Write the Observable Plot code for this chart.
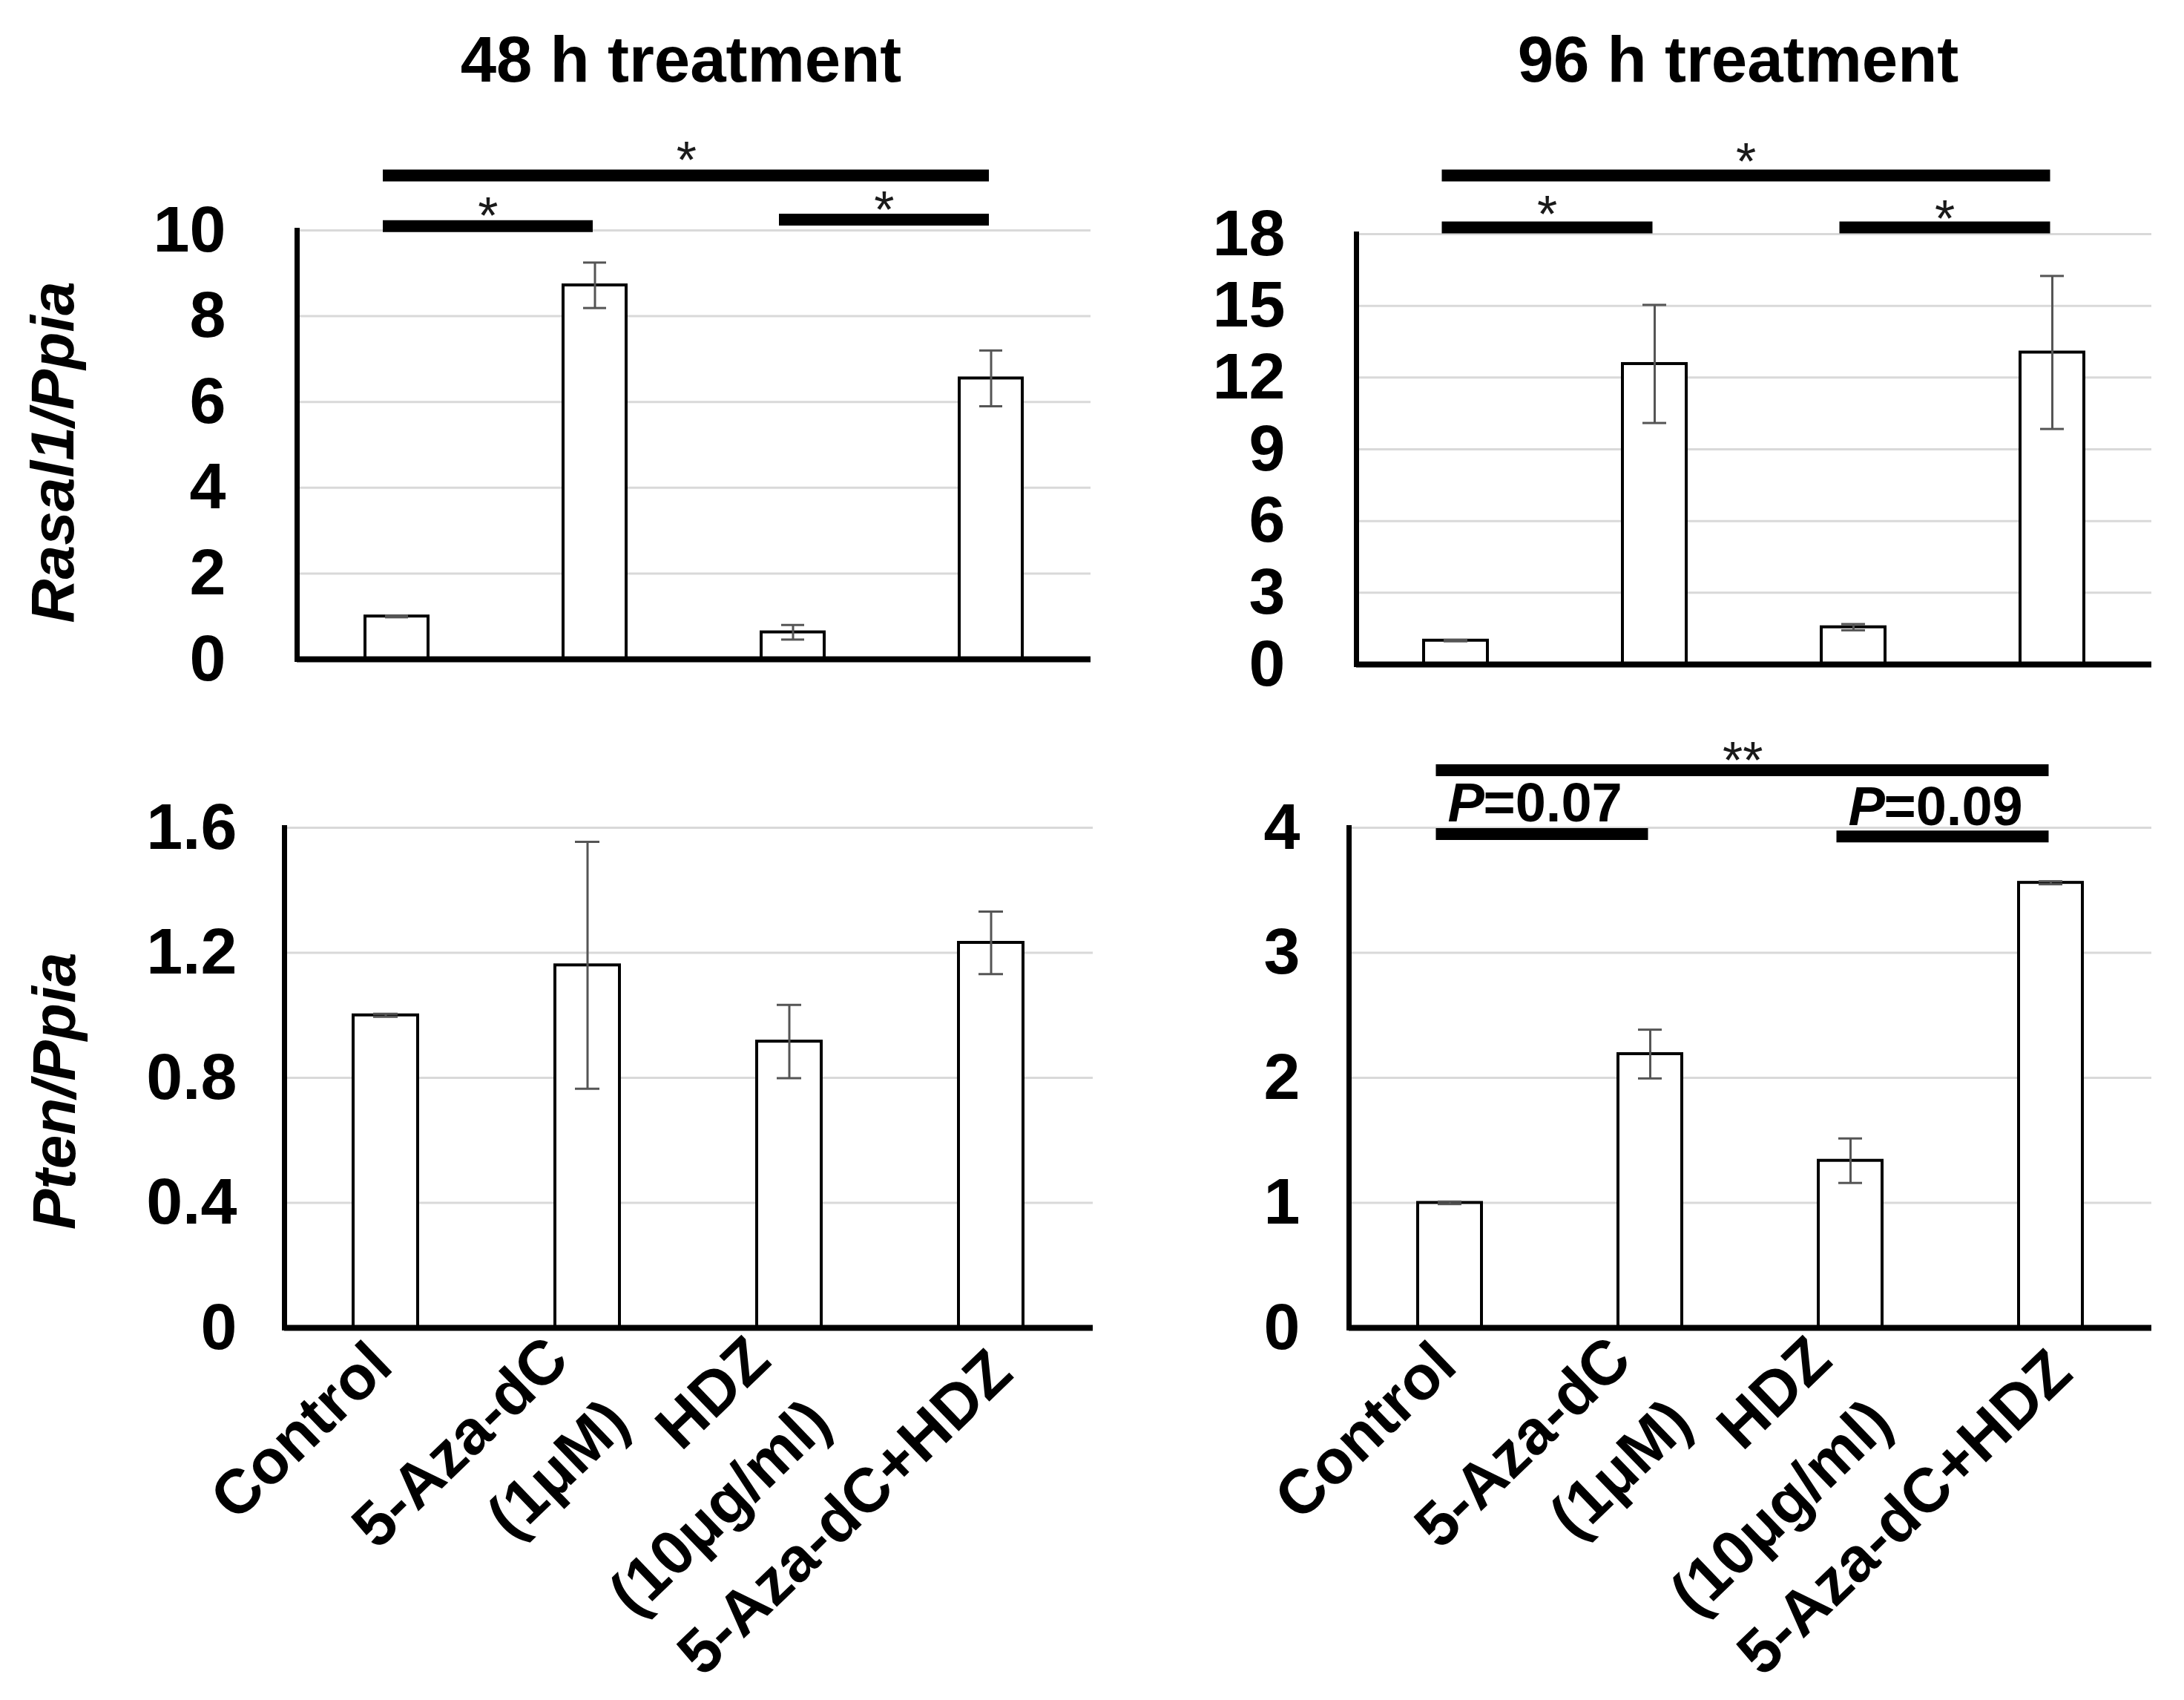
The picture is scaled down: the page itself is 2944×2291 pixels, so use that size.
<!DOCTYPE html>
<html><head><meta charset="utf-8">
<script src="https://cdn.jsdelivr.net/npm/d3@7"></script>
<script src="https://cdn.jsdelivr.net/npm/@observablehq/plot@0.6"></script>
<style>
html,body{margin:0;padding:0;background:#fff;}
#root{position:relative;width:2944px;height:2291px;background:#fff;font-family:"Liberation Sans",Arial,sans-serif;overflow:hidden}
.panel{position:absolute}
.title{position:absolute;width:900px;text-align:center;font-size:87px;font-weight:bold;line-height:1;color:#000;white-space:nowrap}
</style></head><body><div id="root"></div>
<script>
// ---- data ----
const categories = ["Control", "5-Aza-dC\n(1μM)", "HDZ\n(10μg/ml)", "5-Aza-dC+HDZ"];
const titles = ["48 h treatment", "96 h treatment"];
const rasalLabel = "Rasal1/Ppia";
const ptenLabel = "Pten/Ppia";

const rasal48 = [1.0, 8.72, 0.63, 6.55];
const rasal48Err = [0.02, 0.53, 0.17, 0.65];
const rasal96 = [1.0, 12.57, 1.56, 13.05];
const rasal96Err = [0.03, 2.47, 0.13, 3.2];
const pten48 = [1.0, 1.16, 0.916, 1.232];
const pten48Err = [0.005, 0.395, 0.117, 0.1];
const pten96 = [1.0, 2.19, 1.337, 3.56];
const pten96Err = [0.01, 0.195, 0.178, 0.012];

const rasal48Ticks = [0, 2, 4, 6, 8, 10];
const rasal96Ticks = [0, 3, 6, 9, 12, 15, 18];
const pten48Ticks = [0, 0.4, 0.8, 1.2, 1.6];
const pten96Ticks = [0, 1, 2, 3, 4];

// significance brackets: [from, to, bar y, label, label y]
const rasal48Sig = [
  ["Control", "5-Aza-dC+HDZ", 11.28, "*", 11.9],
  ["Control", "5-Aza-dC\n(1μM)", 10.1, "*", 10.6],
  ["HDZ\n(10μg/ml)", "5-Aza-dC+HDZ", 10.25, "*", 10.75]
];
const rasal96Sig = [
  ["Control", "5-Aza-dC+HDZ", 20.45, "*", 21.5],
  ["Control", "5-Aza-dC\n(1μM)", 18.28, "*", 19.3],
  ["HDZ\n(10μg/ml)", "5-Aza-dC+HDZ", 18.28, "*", 19.1]
];
const pten48Sig = [];
const pten96Sig = [
  ["Control", "5-Aza-dC+HDZ", 4.46, "**", 4.63],
  ["Control", "5-Aza-dC\n(1μM)", 3.95, "P=0.07", 4.05],
  ["HDZ\n(10μg/ml)", "5-Aza-dC+HDZ", 3.93, "P=0.09", 4.02]
];

// ---- drawing ----
const FONT = '"Liberation Sans", Arial, sans-serif';
const root = document.getElementById("root");

function makePanel(cfg) {
  const rows = categories.map((c, i) => ({cat: c, v: cfg.values[i], e: cfg.errs[i]}));
  const sig = cfg.sig.map(([from, to, y, label, labelY]) => ({from, to, y, label, labelY}));
  const innerW = cfg.width - cfg.mL - cfg.mR;
  const step = innerW / categories.length;
  const sigDx = -11;
  const errStyle = {stroke: "#555", strokeWidth: 3};
  const marks = [
    Plot.gridY(cfg.ticks.filter(t => t > 0), {stroke: "#d9d9d9", strokeOpacity: 1, strokeWidth: 3}),
    Plot.barY(rows, {x: "cat", y: "v", fill: "white", stroke: "black", strokeWidth: 4}),
    Plot.ruleX(rows, {x: "cat", y1: d => d.v - d.e, y2: d => d.v + d.e, ...errStyle}),
    Plot.tickY(rows, {x: "cat", y: d => d.v + d.e, insetLeft: 27, insetRight: 27, ...errStyle}),
    Plot.tickY(rows, {x: "cat", y: d => d.v - d.e, insetLeft: 27, insetRight: 27, ...errStyle}),
    Plot.ruleY([0], {stroke: "black", strokeWidth: 8}),
    Plot.frame({anchor: "left", stroke: "black", strokeWidth: 7}),
    Plot.axisY({ticks: cfg.ticks, tickFormat: d => String(d), tickSize: 0, tickPadding: cfg.tickPadding,
      fontSize: 88, fontWeight: "bold", label: null}),
    Plot.link(sig, {x1: "from", x2: "to", y1: "y", y2: "y", stroke: "black", strokeWidth: 16, strokeLinecap: "square", dx: sigDx})
  ];
  if (cfg.yLabel) {
    marks.push(Plot.text([cfg.yLabel], {text: d => d, frameAnchor: "left", rotate: -90, dx: cfg.yLabelX - cfg.mL, dy: cfg.yLabelDy,
      fontSize: 82, fontStyle: "italic", fontWeight: "bold", textAnchor: "middle", lineAnchor: "middle", fill: "black"}));
  }
  for (const d of sig) {
    if (d.label.startsWith("P=")) {
      marks.push(Plot.text([d], {x: "from", y: "labelY", text: () => "P", fontStyle: "italic", fontWeight: "bold",
        fontSize: 74, textAnchor: "start", lineAnchor: "bottom", dx: -3, fill: "black"}));
      marks.push(Plot.text([d], {x: "from", y: "labelY", text: dd => dd.label.slice(1), fontWeight: "bold",
        fontSize: 74, textAnchor: "start", lineAnchor: "bottom", dx: 45, fill: "black"}));
    } else {
      const span = categories.indexOf(d.to) - categories.indexOf(d.from);
      marks.push(Plot.text([d], {x: "from", y: "labelY", text: "label", fontSize: 70, fill: "#1a1a1a",
        textAnchor: "middle", lineAnchor: "middle", dx: span / 2 * step + sigDx, dy: 17}));
    }
  }
  if (cfg.showX) {
    const xText = {tickRotate: -44, tickSize: 0, fontSize: 84, fontWeight: "bold", label: null};
    marks.push(Plot.axisX({...xText, ticks: [categories[0]], tickPadding: 36, dx: -6}));
    marks.push(Plot.axisX({...xText, ticks: [categories[1], categories[2]], tickPadding: 63, dx: -7, lineHeight: 1.4}));
    marks.push(Plot.axisX({...xText, ticks: [categories[3]], tickPadding: 46, dx: 14}));
  }
  const svg = Plot.plot({
    width: cfg.width, height: cfg.height,
    marginLeft: cfg.mL, marginRight: cfg.mR, marginTop: cfg.mT, marginBottom: cfg.mB,
    x: {domain: categories, paddingInner: 0.68, paddingOuter: 0.34, ...(cfg.showX ? {} : {axis: null})},
    y: {domain: [0, cfg.ticks[cfg.ticks.length - 1]]},
    style: {fontFamily: FONT, color: "black", background: "transparent", overflow: "visible"},
    marks
  });
  svg.classList.add("panel");
  svg.style.left = cfg.left + "px";
  svg.style.top = cfg.top + "px";
  root.appendChild(svg);
}

titles.forEach((t, i) => {
  const div = document.createElement("div");
  div.className = "title";
  div.textContent = t;
  div.style.left = (i === 0 ? 468 : 1893) + "px";
  div.style.top = "36px";
  root.appendChild(div);
});

makePanel({values: rasal48, errs: rasal48Err, ticks: rasal48Ticks, sig: rasal48Sig, yLabel: rasalLabel, showX: false,
  left: 0, top: 150, width: 1500, height: 758, mL: 400, mR: 30, mT: 160, mB: 20, tickPadding: 96, yLabelX: 72, yLabelDy: 10});
makePanel({values: rasal96, errs: rasal96Err, ticks: rasal96Ticks, sig: rasal96Sig, yLabel: null, showX: false,
  left: 1440, top: 150, width: 1504, height: 765, mL: 388, mR: 44, mT: 165, mB: 20, tickPadding: 96, yLabelX: 70, yLabelDy: 0});
makePanel({values: pten48, errs: pten48Err, ticks: pten48Ticks, sig: pten48Sig, yLabel: ptenLabel, showX: true,
  left: 0, top: 930, width: 1500, height: 1361, mL: 383, mR: 27, mT: 185, mB: 502, tickPadding: 64, yLabelX: 74, yLabelDy: 18});
makePanel({values: pten96, errs: pten96Err, ticks: pten96Ticks, sig: pten96Sig, yLabel: null, showX: true,
  left: 1440, top: 930, width: 1504, height: 1361, mL: 378, mR: 44, mT: 185, mB: 502, tickPadding: 66, yLabelX: 70, yLabelDy: 0});
</script></body></html>
